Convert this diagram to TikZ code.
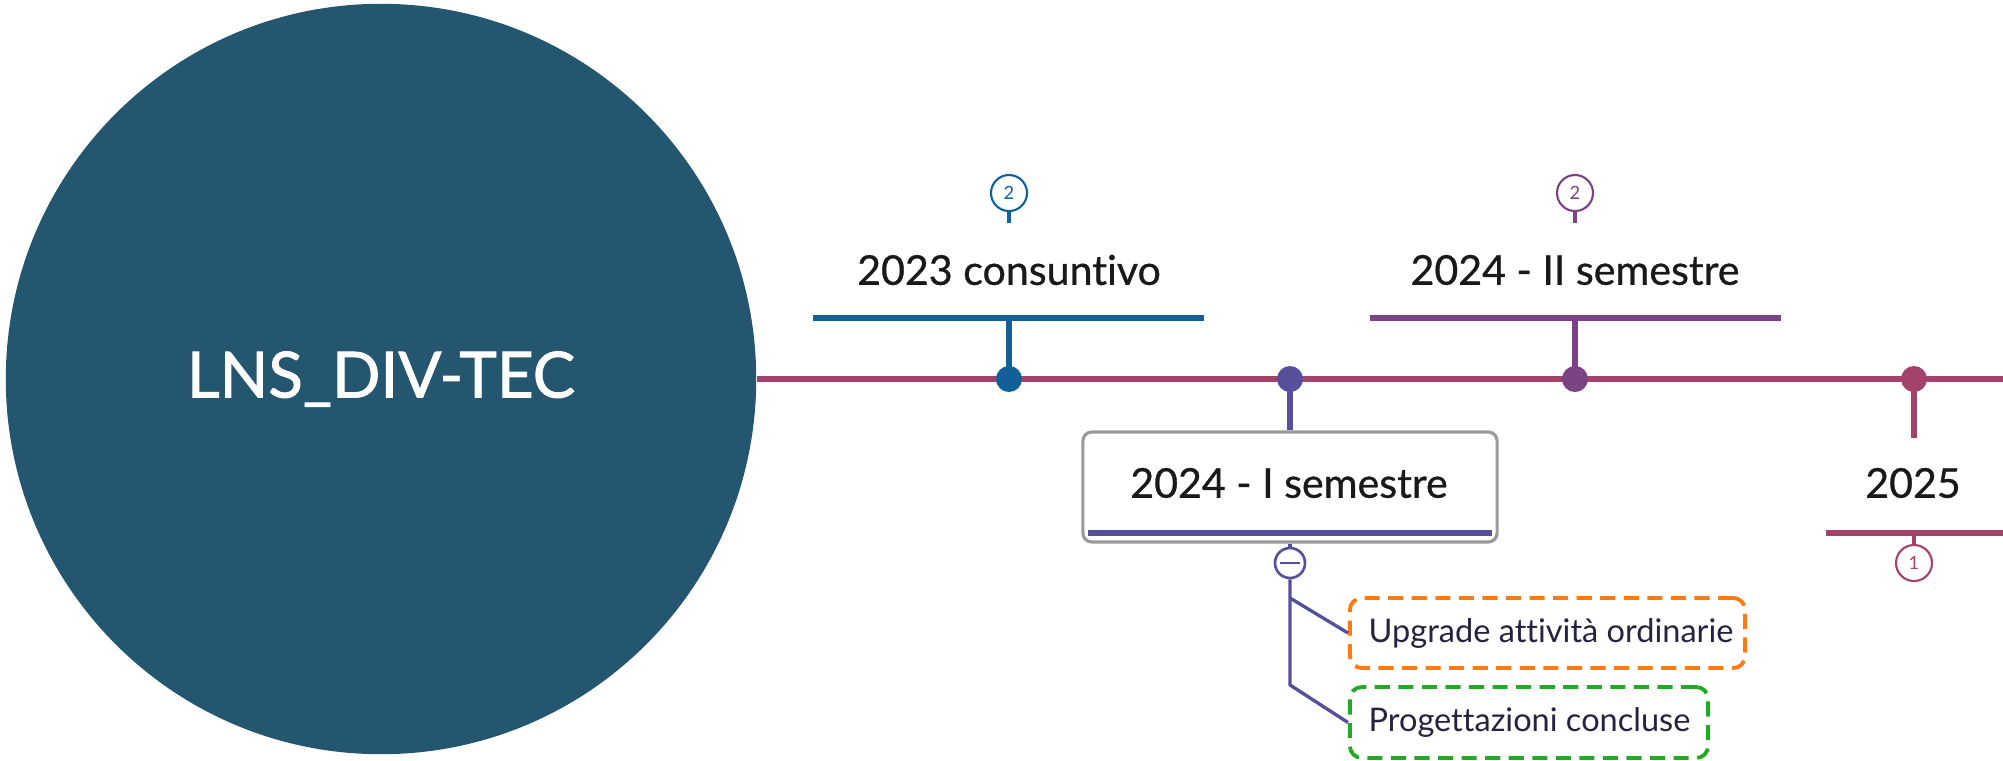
\documentclass[tikz,border=0pt]{standalone}
\usepackage{fontspec}
\setmainfont{Lato}[Ligatures=NoCommon]
\newfontfamily\medfont[FakeBold=0.7,Ligatures=NoCommon]{Lato}
\newfontfamily\rootfont[FakeBold=1.4,Ligatures=NoCommon]{Lato}
\definecolor{rootc}{HTML}{24566F}
\definecolor{tlc}{HTML}{A3426B}
\definecolor{bluec}{HTML}{11609A}
\definecolor{purc}{HTML}{7B4385}
\definecolor{indc}{HTML}{56509A}
\definecolor{greyc}{HTML}{9A9A9A}
\definecolor{orangec}{HTML}{FF7A10}
\definecolor{greenc}{HTML}{22AA22}
\definecolor{smallc}{HTML}{25233F}
\begin{document}
\begin{tikzpicture}[x=0.01cm,y=-0.01cm,
  thick line/.style={line width=1.75pt, draw=#1},
  thin line/.style={line width=0.95pt, draw=#1},
  dotn/.style={circle, minimum size=0.26cm, inner sep=0pt, fill=#1},
  counter/.style={circle, draw=#1, line width=0.6pt, minimum size=0.36cm, inner sep=0pt, fill=white, text=#1, font=\fontsize{5.2}{6}\selectfont},
  biglabel/.style={text=black!90, font=\medfont\fontsize{11.7}{13}\selectfont, inner sep=0pt},
  smalllabel/.style={text=smallc, font=\fontsize{9.25}{11}\selectfont, inner sep=0pt},
  dashbox/.style={draw=#1, line width=1.1pt, rounded corners=0.12cm, dash pattern=on 4.3pt off 2.4pt},
]
\useasboundingbox (0,0) rectangle (2003,760);

% root
\node[circle, fill=rootc, minimum size=7.5cm, inner sep=0pt, text=white,
      font=\rootfont\fontsize{18.1}{20}\selectfont] (root) at (381,379) {LNS\_DIV-TEC};

% timeline
\coordinate (tlend) at (2003,379);
\draw[thick line=tlc] (root.east) -- (tlend);

% ---- 2023 consuntivo
\node[dotn=bluec] (d1) at (1009,379) {};
\coordinate (b1l) at (813,318);
\coordinate (b1r) at (1204,318);
\coordinate (b1m) at (1009,318);
\draw[thick line=bluec] (b1l) -- (b1r);
\draw[thick line=bluec] (d1.center) -- (b1m);
\node[biglabel] (t1) at (1009,270) {2023 consuntivo};
\node[counter=bluec] (c1) at (1009,193) {2};
\coordinate (c1s) at (1009,223);
\draw[thin line=bluec] (c1.south) -- (c1s);

% ---- 2024 - II semestre
\node[dotn=purc] (d3) at (1575,379) {};
\coordinate (b3l) at (1370,318);
\coordinate (b3r) at (1781,318);
\coordinate (b3m) at (1575,318);
\draw[thick line=purc] (b3l) -- (b3r);
\draw[thick line=purc] (d3.center) -- (b3m);
\node[biglabel] (t3) at (1575,270) {2024 - II semestre};
\node[counter=purc] (c3) at (1575,193) {2};
\coordinate (c3s) at (1575,223);
\draw[thin line=purc] (c3.south) -- (c3s);

% ---- 2024 - I semestre
\node[dotn=indc] (d2) at (1290,379) {};
\node[draw=greyc, line width=0.9pt, rounded corners=0.09cm, fill=white,
      minimum width=4.14cm, minimum height=1.10cm, inner sep=0pt] (box2) at (1290,487) {};
\draw[thick line=indc] (d2.center) -- (box2.north);
\coordinate (ib1) at (1088,533);
\coordinate (ib2) at (1492,533);
\draw[thick line=indc] (ib1) -- (ib2);
\node[biglabel] (t2) at (1289,483) {2024 - I semestre};
\node[circle, draw=indc, line width=0.75pt, minimum size=0.3cm, inner sep=0pt, fill=white] (minus) at (1290,563) {};
\draw[line width=0.75pt, draw=indc] ([xshift=-0.1cm]minus.center) -- ([xshift=0.1cm]minus.center);
\draw[thin line=indc] (box2.south) -- (minus.north);

\node[dashbox=orangec, minimum width=3.95cm, minimum height=0.70cm, inner sep=0pt] (up) at (1547.5,633) {};
\node[smalllabel, anchor=west] (upt) at (1368,633) {Upgrade attività ordinarie};
\node[dashbox=greenc, minimum width=3.58cm, minimum height=0.71cm, inner sep=0pt] (pr) at (1529,722.5) {};
\node[smalllabel, anchor=west] (prt) at (1368,722) {Progettazioni concluse};

\coordinate (br1) at (1290,598);
\coordinate (br2) at (1290,685);
\draw[thin line=indc, line join=round] (minus.south) -- (br2) -- (pr.west);
\draw[thin line=indc] (br1) -- (up.west);

% ---- 2025
\node[dotn=tlc] (d4) at (1914,379) {};
\coordinate (s4) at (1914,438);
\draw[thick line=tlc] (d4.center) -- (s4);
\node[biglabel] (t4) at (1913,483) {2025};
\coordinate (b4l) at (1826,533);
\coordinate (b4r) at (2003,533);
\coordinate (b4m) at (1914,533);
\draw[thick line=tlc] (b4l) -- (b4r);
\node[counter=tlc] (c4) at (1914,563) {1};
\draw[thin line=tlc] (b4m) -- (c4.north);
\end{tikzpicture}
\end{document}
